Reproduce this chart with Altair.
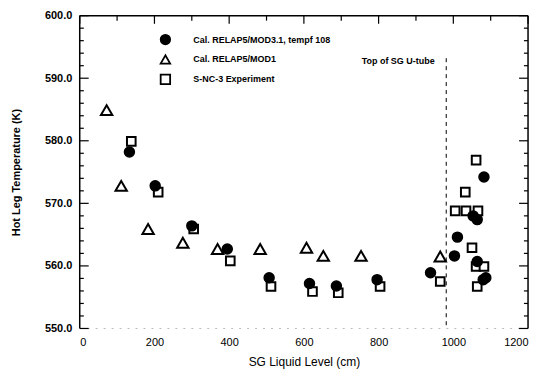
import altair as alt
import pandas as pd

S_CIRC = "Cal. RELAP5/MOD3.1, tempf 108"
S_TRI = "Cal. RELAP5/MOD1"
S_SQ = "S-NC-3 Experiment"

circ_x = [133, 202, 300, 395, 507, 615, 687, 796, 939, 1003, 1011, 1053, 1064, 1082, 1064, 1080, 1087]
circ_y = [578.2, 572.8, 566.4, 562.7, 558.1, 557.2, 556.8, 557.8, 558.9, 561.6, 564.6, 568.0, 567.4, 574.2, 560.7, 557.8, 558.1]

tri_x = [72, 111, 183, 276, 369, 483, 607, 652, 753, 965]
tri_y = [584.9, 572.8, 565.9, 563.7, 562.7, 562.7, 562.9, 561.6, 561.6, 561.5]

sq_x = [138, 210, 305, 403, 512, 623, 692, 804, 965, 1061, 1032, 1005, 1034, 1066, 1050, 1061, 1082, 1064]
sq_y = [579.9, 571.8, 565.9, 560.8, 556.7, 555.9, 555.7, 556.7, 557.5, 576.9, 571.8, 568.8, 568.8, 568.8, 562.9, 559.9, 559.9, 556.7]

x_ticks = [0, 200, 400, 600, 800, 1000, 1200]
x_minor = [100, 300, 500, 700, 900, 1100]
y_major = [550, 560, 570, 580, 590, 600]
y_minor = [552, 554, 556, 558, 562, 564, 566, 568, 572, 574, 576, 578,
           582, 584, 586, 588, 592, 594, 596, 598]

utube_x = [981]
utube_y = [593.2]
utube_y2 = [550]
utube_label = ["Top of SG U-tube"]
utube_label_x = [950]
utube_label_y = [592.8]

rows = []
for x, y in zip(sq_x, sq_y):
    rows.append({"x": x, "y": y, "series": S_SQ})
for x, y in zip(tri_x, tri_y):
    rows.append({"x": x, "y": y, "series": S_TRI})
for x, y in zip(circ_x, circ_y):
    rows.append({"x": x, "y": y, "series": S_CIRC})
df = pd.DataFrame(rows)

W, H = 450, 314
FONT = "Liberation Sans"
X_LO, X_HI, Y_LO, Y_HI = 0, 1200, 550, 600
XDOM = alt.Scale(domain=[X_LO, X_HI], nice=False, zero=False)
YDOM = alt.Scale(domain=[Y_LO, Y_HI], nice=False, zero=False)
SERIES = [S_CIRC, S_TRI, S_SQ]

leg = alt.Legend(
    title=None, orient="none", legendX=80, legendY=18,
    labelFont=FONT, labelFontSize=9, labelFontWeight="bold", labelColor="black",
    symbolSize=90, symbolStrokeWidth=1.8, rowPadding=3, labelOffset=22,
)
shape_enc = alt.Shape("series:N", scale=alt.Scale(
    domain=SERIES, range=["circle", "triangle-up", "square"]), legend=leg)
fill_enc = alt.Fill("series:N", scale=alt.Scale(
    domain=SERIES, range=["black", "white", "white"]), legend=leg)
stroke_enc = alt.Stroke("series:N", scale=alt.Scale(
    domain=SERIES, range=["black", "black", "black"]), legend=leg)

x_axis = alt.Axis(
    orient="bottom", values=x_ticks, format="d", title="SG Liquid Level (cm)",
    ticks=False, labelPadding=8, labelFont=FONT, labelFontSize=11, labelColor="black",
    titleFont=FONT, titleFontSize=12, titleFontWeight="normal", titleColor="black",
    titlePadding=9, domain=False, grid=False)
y_axis = alt.Axis(
    orient="left", values=y_major, format=".1f", title="Hot Leg Temperature (K)",
    ticks=False, labelPadding=8, labelFont=FONT, labelFontSize=11, labelFontWeight="bold",
    labelColor="black", titleFont=FONT, titleFontSize=11, titleFontWeight="bold",
    titleColor="black", titlePadding=23, domain=False, grid=False)

base = alt.Chart(df)


def pts(series, size, sw):
    return base.transform_filter(alt.datum.series == series).mark_point(
        size=size, strokeWidth=sw, opacity=1, filled=False
    ).encode(
        x=alt.X("x:Q", scale=XDOM, axis=x_axis),
        y=alt.Y("y:Q", scale=YDOM, axis=y_axis),
        shape=shape_enc, fill=fill_enc, stroke=stroke_enc,
    )


sq_layer = pts(S_SQ, 75, 2)
tri_layer = pts(S_TRI, 130, 2)
circ_layer = pts(S_CIRC, 100, 1.5)

rule_df = pd.DataFrame({"x": utube_x, "y": utube_y, "y2": utube_y2})
rule_layer = alt.Chart(rule_df).mark_rule(
    color="black", strokeWidth=1, strokeDash=[4, 4]
).encode(x="x:Q", y="y:Q", y2="y2:Q")

text_df = pd.DataFrame({"x": utube_label_x, "y": utube_label_y, "t": utube_label})
text_layer = alt.Chart(text_df).mark_text(
    align="right", baseline="middle", font=FONT, fontSize=9, fontWeight="bold", color="black"
).encode(x="x:Q", y="y:Q", text="t:N")

# frame: top, left, right edges (bottom left faint as in the scan)
edges_df = pd.DataFrame({
    "x": [X_LO, X_LO, X_HI],
    "x2": [X_HI, X_LO, X_HI],
    "y": [Y_HI, Y_LO, Y_LO],
    "y2": [Y_HI, Y_HI, Y_HI],
})
edge_layer = alt.Chart(edges_df).mark_rule(color="black", strokeWidth=1.5).encode(
    x="x:Q", x2="x2:Q", y="y:Q", y2="y2:Q")
bottom_df = pd.DataFrame({"x": [X_LO], "x2": [X_HI], "y": [Y_LO], "y2": [Y_LO]})
bottom_layer = alt.Chart(bottom_df).mark_rule(color="#bbbbbb", strokeWidth=1,
                                              strokeDash=[2, 6]).encode(
    x="x:Q", x2="x2:Q", y="y:Q", y2="y2:Q")

# inward ticks, in data units: y ticks span a short x-range, x ticks a short y-range
YMAJ_LEN, YMIN_LEN = 24, 11      # cm along x (about 9 and 4 px)
XMAJ_LEN, XMIN_LEN = 1.3, 0.8    # K along y (about 8 and 5 px)
tick_rows = []
for v in y_major:
    tick_rows.append({"x": X_LO, "x2": X_LO + YMAJ_LEN, "y": v, "y2": v})
    tick_rows.append({"x": X_HI - YMAJ_LEN, "x2": X_HI, "y": v, "y2": v})
for v in y_minor:
    tick_rows.append({"x": X_LO, "x2": X_LO + YMIN_LEN, "y": v, "y2": v})
    tick_rows.append({"x": X_HI - YMIN_LEN, "x2": X_HI, "y": v, "y2": v})
for v in x_ticks:
    tick_rows.append({"x": v, "x2": v, "y": Y_HI, "y2": Y_HI - XMAJ_LEN})
for v in x_minor:
    tick_rows.append({"x": v, "x2": v, "y": Y_HI, "y2": Y_HI - XMIN_LEN})
ticks_df = pd.DataFrame(tick_rows)
tick_layer = alt.Chart(ticks_df).mark_rule(color="black", strokeWidth=1.2).encode(
    x="x:Q", x2="x2:Q", y="y:Q", y2="y2:Q")

chart = alt.layer(edge_layer, bottom_layer, tick_layer, rule_layer, text_layer,
                  sq_layer, tri_layer, circ_layer).properties(
    width=W, height=H,
    autosize=alt.AutoSizeParams(type="none"),
    padding={"left": 72, "top": 7, "right": 10, "bottom": 40},
    background="white",
).configure_view(strokeWidth=0)

chart.save("out.html", embed_options={"renderer": "svg", "actions": False})
